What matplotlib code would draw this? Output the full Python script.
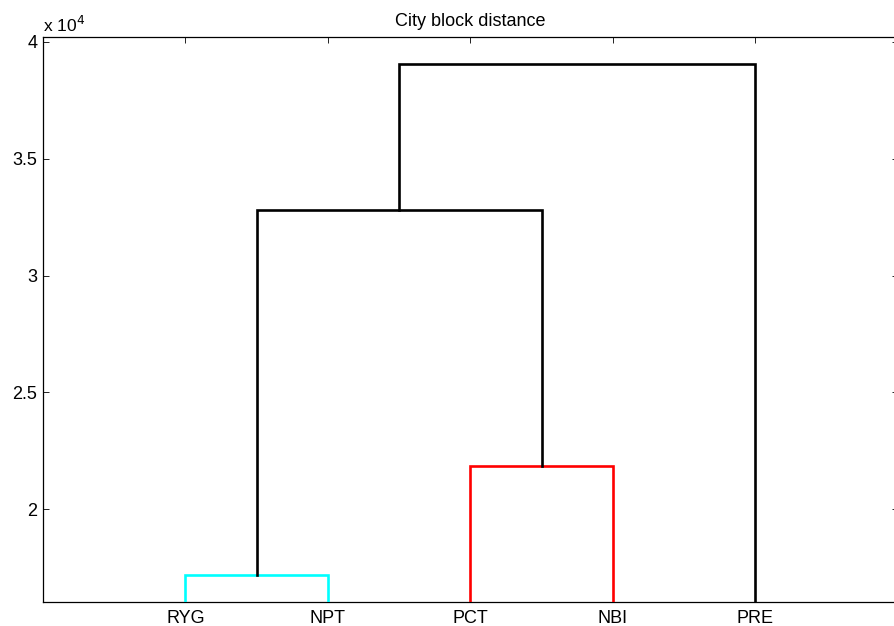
import numpy as np
import matplotlib.pyplot as plt

plt.rcParams['font.family'] = ['Liberation Sans', 'DejaVu Sans']

# leaves in dendrogram order and the linkage (cluster ids: leaves 0-4, merges 5..)
leaves = ['RYG', 'NPT', 'PCT', 'NBI', 'PRE']
pairs = [(0, 1), (2, 3), (5, 6), (7, 4)]
heights = [17190, 21850, 32810, 39070]
colors = ['#00FFFF', '#FF0000', 'black', 'black']

xpos = {i: i + 1.0 for i in range(len(leaves))}
ypos = {i: 0.0 for i in range(len(leaves))}

fig = plt.figure(figsize=(8.95, 6.26), dpi=100)
ax = fig.add_axes([43 / 895, 1 - 601.7 / 626, 855 / 895, (601.7 - 37) / 626])

for k, ((a, b), h, c) in enumerate(zip(pairs, heights, colors)):
    xa, xb = xpos[a], xpos[b]
    ax.plot([xa, xa, xb, xb], [ypos[a], h, h, ypos[b]], color=c, lw=1.9,
            solid_joinstyle='miter', zorder=3)
    new = len(leaves) + k
    xpos[new] = (xa + xb) / 2
    ypos[new] = h

ax.set_xlim(0, 6)
ax.set_ylim(16045, 40210)
ax.set_xticks(np.arange(1, len(leaves) + 1))
ax.set_xticklabels(leaves)
yt = [20000, 25000, 30000, 35000, 40000]
ax.set_yticks(yt)
ax.set_yticklabels(['2', '2.5', '3', '3.5', '4'])

fs = 13
ax.tick_params(axis='both', direction='in', length=4, width=0.7,
               labelsize=fs, colors='#222222', labelcolor='black')
ax.tick_params(axis='x', top=True, pad=6)
ax.tick_params(axis='y', right=True, pad=4)
for s in ax.spines.values():
    s.set_linewidth(0.9)

ax.text(0, 1.004, r'x 10$^{4}$', transform=ax.transAxes, fontsize=fs - 0.5,
        ha='left', va='bottom')
ax.set_title('City block distance', fontsize=fs, pad=8)

fig.savefig('out.png', dpi=100)
